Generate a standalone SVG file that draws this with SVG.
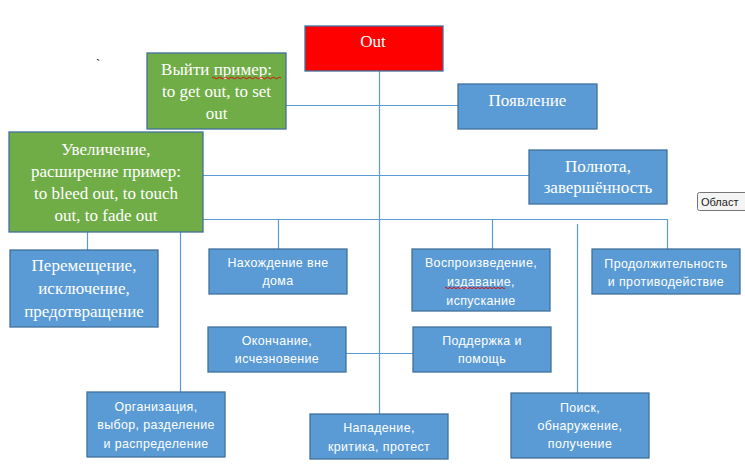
<svg xmlns="http://www.w3.org/2000/svg" width="745" height="470" viewBox="0 0 745 470">
<style>
.bg{fill:#ffffff}
.blue{fill:#5B9BD5;stroke:#41719C;stroke-width:1.3}
.green{fill:#70AD47;stroke:#41719C;stroke-width:1.3}
.red{fill:#FF0000;stroke:#41719C;stroke-width:1.3}
.ser{font-family:'Liberation Serif','DejaVu Serif','Times New Roman',serif;font-size:17px;fill:#ffffff;text-anchor:middle}
.san{font-family:'Liberation Sans',Arial,sans-serif;font-size:12.4px;letter-spacing:0.4px;fill:#ffffff;text-anchor:middle}
.ln{stroke:#5B9BD5;stroke-width:1.2;fill:none}
.sq{stroke:#e00000;stroke-width:0.9;fill:none}
</style>
<rect class="bg" x="0" y="0" width="745" height="470"/>
<g id="connectors">
<path class="ln" d="M379.5 71 V414"/>
<path class="ln" d="M286 105.5 H458"/>
<path class="ln" d="M197 175.5 H529"/>
<path class="ln" d="M203 219.5 H667.5 V249"/>
<path class="ln" d="M278.5 219.5 V249"/>
<path class="ln" d="M492.5 219.5 V249"/>
<path class="ln" d="M577.5 224 V393"/>
<path class="ln" d="M87.5 232 V250"/>
<path class="ln" d="M180.5 232 V392"/>
<path class="ln" d="M346 353.5 H413"/>
</g>
<g id="n-out"><rect class="red" x="305" y="26" width="138" height="45"/><text class="ser" x="373" y="47">Out</text></g>
<g id="n-vyiti"><rect class="green" x="147" y="53" width="139" height="76"/>
<text class="ser" x="216.5" y="75">Выйти пример:</text>
<text class="ser" x="216.5" y="97">to get out, to set</text>
<text class="ser" x="216.5" y="119">out</text>
<path class="sq" d="M212 78 q1.5 -1.5 3 0 t3 0 t3 0 t3 0 t3 0 t3 0 t3 0 t3 0 t3 0 t3 0 t3 0 t3 0 t3 0 t3 0 t3 0 t3 0 t3 0 t3 0 t3 0 t3 0 t3 0 t3 0 t3 0"/>
</g>
<g id="n-poyavlenie"><rect class="blue" x="458" y="84" width="139" height="45"/><text class="ser" x="527.5" y="106">Появление</text></g>
<g id="n-uvelichenie"><rect class="green" x="9" y="132" width="194" height="100"/>
<text class="ser" x="106" y="155">Увеличение,</text>
<text class="ser" x="106" y="177">расширение пример:</text>
<text class="ser" x="106" y="199">to bleed out, to touch</text>
<text class="ser" x="106" y="221">out, to fade out</text>
</g>
<g id="n-polnota"><rect class="blue" x="529" y="150" width="138" height="54"/>
<text class="ser" x="598" y="172">Полнота,</text>
<text class="ser" x="598" y="193">завершённость</text>
</g>
<g id="n-peremeshchenie"><rect class="blue" x="10" y="250" width="148" height="77"/>
<text class="ser" x="84" y="271">Перемещение,</text>
<text class="ser" x="84" y="294">исключение,</text>
<text class="ser" x="84" y="317">предотвращение</text>
</g>
<g id="n-nakhozhdenie"><rect class="blue" x="209" y="249" width="138" height="45"/>
<text class="san" x="278" y="267">Нахождение вне</text>
<text class="san" x="278" y="285">дома</text>
</g>
<g id="n-vosproizvedenie"><rect class="blue" x="412" y="249" width="138" height="62"/>
<text class="san" x="481" y="267">Воспроизведение,</text>
<text class="san" x="481" y="286">издавание,</text>
<text class="san" x="481" y="305">испускание</text>
<path class="sq" d="M445 288 q1 -1.2 2 0 t2 0 t2 0 t2 0 t2 0 t2 0 t2 0 t2 0 t2 0 t2 0 t2 0 t2 0 t2 0 t2 0 t2 0 t2 0 t2 0 t2 0 t2 0 t2 0 t2 0 t2 0 t2 0 t2 0 t2 0 t2 0 t2 0 t2 0 t2 0 t2 0"/>
</g>
<g id="n-prodolzhitelnost"><rect class="blue" x="592" y="249" width="148" height="45"/>
<text class="san" x="666" y="268">Продолжительность</text>
<text class="san" x="666" y="286">и противодействие</text>
</g>
<g id="n-okonchanie"><rect class="blue" x="208" y="327" width="138" height="45"/>
<text class="san" x="277" y="345">Окончание,</text>
<text class="san" x="277" y="363">исчезновение</text>
</g>
<g id="n-podderzhka"><rect class="blue" x="413" y="327" width="138" height="45"/>
<text class="san" x="482" y="345">Поддержка и</text>
<text class="san" x="482" y="363">помощь</text>
</g>
<g id="n-organizatsiya"><rect class="blue" x="87" y="392" width="138" height="65"/>
<text class="san" x="156" y="411">Организация,</text>
<text class="san" x="156" y="429">выбор, разделение</text>
<text class="san" x="156" y="448">и распределение</text>
</g>
<g id="n-napadenie"><rect class="blue" x="310" y="414" width="138" height="45"/>
<text class="san" x="379" y="432">Нападение,</text>
<text class="san" x="379" y="451">критика, протест</text>
</g>
<g id="n-poisk"><rect class="blue" x="511" y="393" width="138" height="65"/>
<text class="san" x="580" y="412">Поиск,</text>
<text class="san" x="580" y="430">обнаружение,</text>
<text class="san" x="580" y="448">получение</text>
</g>
<text x="96" y="68" style="font-family:'Liberation Serif',serif;font-size:12px;fill:#000">`</text>
<g id="tooltip">
<rect x="697.5" y="192.5" width="60" height="18" rx="2" fill="#f4f4f4" stroke="#767676" stroke-width="1"/>
<text x="701" y="206" style="font-family:'Liberation Sans',sans-serif;font-size:11px;fill:#222">Област</text>
</g>
</svg>
